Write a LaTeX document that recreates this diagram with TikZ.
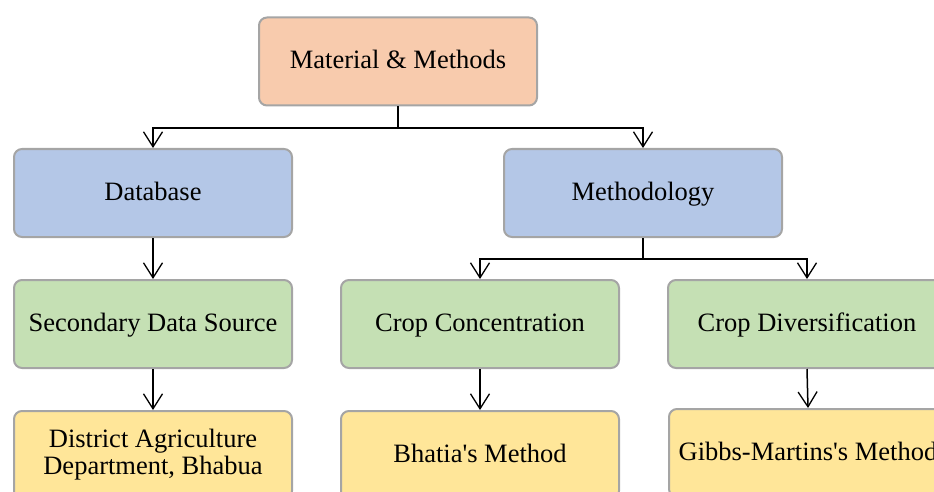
\documentclass[tikz,border=0pt]{standalone}
\usepackage{fontspec}
\setmainfont{Liberation Serif}
\usetikzlibrary{arrows.meta}
\definecolor{peach}{HTML}{F8CBAD}
\definecolor{bluebox}{HTML}{B4C7E7}
\definecolor{greenbox}{HTML}{C5E0B4}
\definecolor{yellowbox}{HTML}{FFE699}
\definecolor{edgegray}{HTML}{A5A5A5}
\begin{document}
\begin{tikzpicture}[x=1pt,y=-1pt,
  box/.style={draw=edgegray, line width=2pt, rounded corners=8pt, minimum width=278pt, minimum height=88pt, align=center, inner sep=0pt, font=\fontsize{26.5}{27}\selectfont},
  oneline/.style={text height=18pt, text depth=3pt},
  conn/.style={line width=1.5pt, -{Straight Barb[length=15pt,width=19pt,line width=1.3pt]}},
  plain/.style={line width=1.5pt}]
\useasboundingbox (0,0) rectangle (934,492);
\begin{scope}
\clip (0,0) rectangle (934,492);
\node[box, oneline, fill=peach] (mm) at (398,61.5) {Material \& Methods};
\node[box, oneline, fill=bluebox] (db) at (153,193) {Database};
\node[box, oneline, fill=bluebox] (me) at (643,193) {Methodology};
\node[box, oneline, fill=greenbox] (sds) at (153,324) {Secondary Data Source};
\node[box, oneline, fill=greenbox] (cc) at (480,324) {Crop Concentration};
\node[box, oneline, fill=greenbox] (cd) at (807,324) {Crop Diversification};
\node[box, fill=yellowbox] (dad) at (153,455) {District Agriculture\\Department, Bhabua};
\node[box, oneline, fill=yellowbox] (bm) at (480,455) {Bhatia\textquotesingle s Method};
\node[box, oneline, fill=yellowbox] (gm) at (808,453) {Gibbs-Martins\textquotesingle s Method};
\coordinate (j1) at (398,128);
\coordinate (j2) at (643,259);
\draw[plain] (mm.south) -- (j1);
\draw[conn] (j1) -| (db.north);
\draw[conn] (j1) -| (me.north);
\draw[plain] (me.south) -- (j2);
\draw[conn] (j2) -| (cc.north);
\draw[conn] (j2) -| (cd.north);
\draw[conn] (db.south) -- (sds.north);
\draw[conn] (sds.south) -- (dad.north);
\draw[conn] (cc.south) -- (bm.north);
\draw[conn] (cd.south) -- (gm.north);
\end{scope}
\end{tikzpicture}
\end{document}
